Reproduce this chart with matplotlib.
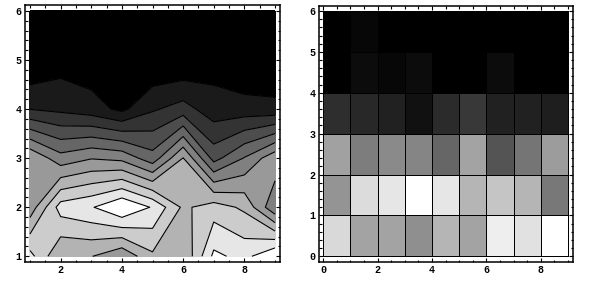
import numpy as np
import matplotlib
matplotlib.use("Agg")
import matplotlib.pyplot as plt
from matplotlib.ticker import MultipleLocator

# data matrix (rows from bottom y=1 to top y=6, columns x=1..9), scaled 0..1
row1 = [0.85, 0.64, 0.64, 0.56, 0.71, 0.64, 0.93, 0.88, 1.00]
row2 = [0.58, 0.86, 0.90, 1.00, 0.90, 0.71, 0.77, 0.71, 0.47]
row3 = [0.63, 0.49, 0.54, 0.52, 0.40, 0.64, 0.33, 0.46, 0.61]
row4 = [0.18, 0.16, 0.13, 0.07, 0.17, 0.22, 0.13, 0.13, 0.12]
row5 = [0.00, 0.05, 0.03, 0.05, 0.00, 0.00, 0.05, 0.00, 0.00]
row6 = [0.00, 0.03, 0.00, 0.00, 0.00, 0.00, 0.00, 0.00, 0.00]

Z = np.array([row1, row2, row3, row4, row5, row6])
ny, nx = Z.shape
xs = np.arange(1, nx + 1)
ys = np.arange(1, ny + 1)

fig = plt.figure(figsize=(5.91, 2.81), dpi=100)
fig.patch.set_facecolor("white")

def style(ax, xmaj, xmin, ymaj, ymin):
    ax.xaxis.set_major_locator(MultipleLocator(xmaj))
    ax.xaxis.set_minor_locator(MultipleLocator(xmin))
    ax.yaxis.set_major_locator(MultipleLocator(ymaj))
    ax.yaxis.set_minor_locator(MultipleLocator(ymin))
    ax.tick_params(which="both", direction="in", top=True, right=True,
                   width=0.8, colors="black")
    ax.tick_params(which="major", length=3.2, pad=2.5)
    ax.tick_params(which="minor", length=1.8)
    for lab in ax.get_xticklabels() + ax.get_yticklabels():
        lab.set_fontfamily("Liberation Mono")
        lab.set_fontsize(7.2)
        lab.set_fontweight("bold")
    for s in ax.spines.values():
        s.set_linewidth(1.1)

# ---- left: contour plot
ax1 = fig.add_axes([25/591, 19/281, 255/591, 257/281])
zmin, zmax = Z.min(), Z.max()
n = 10
levels = zmin + (zmax - zmin) * np.arange(0, n + 2) / (n + 1)
fill_levels = levels.copy()
fill_levels[0] -= 1e-6
fill_levels[-1] += 1e-6
colors = [str(k / n) for k in range(n + 1)]
ax1.contourf(xs, ys, Z, levels=fill_levels, colors=colors, antialiased=False)
ax1.contour(xs, ys, Z, levels=levels[1:-1], colors="black", linewidths=0.8)
ax1.set_xlim(0.837, 9.163)
ax1.set_ylim(0.884, 6.122)
style(ax1, 2, 0.5, 1, 0.2)

# ---- right: density plot
ax2 = fig.add_axes([319/591, 19/281, 254/591, 256/281])
xe = np.arange(0, nx + 1)
ye = np.arange(0, ny + 1)
ax2.pcolormesh(xe, ye, Z, cmap="gray", vmin=zmin, vmax=zmax,
               edgecolors="black", linewidth=0.55)
ax2.set_xlim(-0.158, 9.184)
ax2.set_ylim(-0.14, 6.122)
style(ax2, 2, 0.5, 1, 0.2)

fig.savefig("out.png", dpi=100, facecolor="white")
